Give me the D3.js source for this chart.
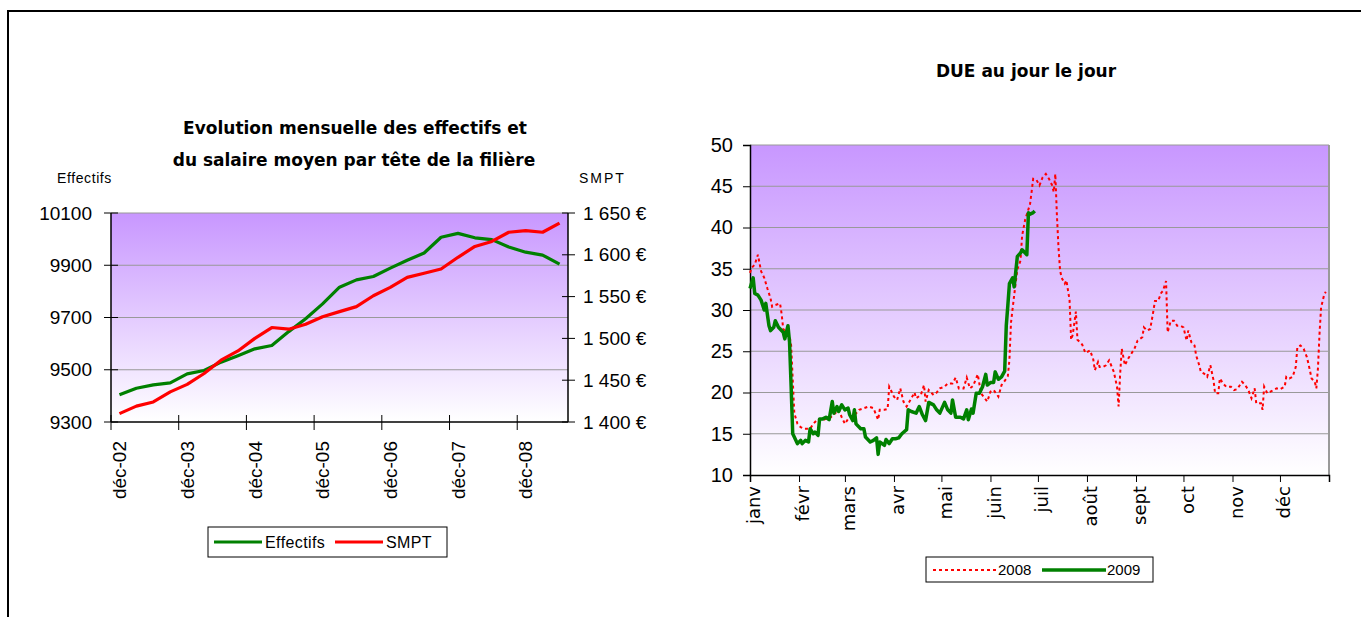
<!DOCTYPE html>
<html>
<head>
<meta charset="utf-8">
<script src="https://cdn.jsdelivr.net/npm/d3@7"></script>
<style>
body { margin: 0; background: #fff; }
svg text { font-family: "Liberation Sans", Arial, sans-serif; fill: #000; }
svg text.comic { font-family: "DejaVu Sans", sans-serif; }
</style>
</head>
<body>
<svg id="chart" width="1361" height="617"></svg>
<script>
// ---- left chart : quarterly data, dec 2002 -> june 2009
var quarters = ["déc-02","mars-03","juin-03","sept-03","déc-03","mars-04","juin-04","sept-04",
    "déc-04","mars-05","juin-05","sept-05","déc-05","mars-06","juin-06","sept-06","déc-06",
    "mars-07","juin-07","sept-07","déc-07","mars-08","juin-08","sept-08","déc-08","mars-09","juin-09"];
var effectifs = [9404, 9429, 9442, 9450, 9484, 9497, 9529, 9554, 9580, 9593, 9646, 9695, 9752, 9816,
    9844, 9857, 9889, 9919, 9947, 10007, 10022, 10005, 9998, 9970, 9950, 9939, 9904];
var smpt = [1410, 1419, 1424, 1436, 1445, 1458, 1474, 1485, 1500, 1513, 1511, 1517, 1526, 1532,
    1538, 1551, 1561, 1573, 1578, 1583, 1597, 1610, 1616, 1627, 1629, 1627, 1638];
var effTicks = [9300, 9500, 9700, 9900, 10100];
var smptTicks = [1400, 1450, 1500, 1550, 1600, 1650];
var quarterLabelStep = 4;

// ---- right chart : daily DUE, day of year
var monthNames = ["janv","févr","mars","avr","mai","juin","juil","août","sept","oct","nov","déc"];
var monthStarts = [0, 31, 60, 91, 121, 152, 182, 213, 244, 274, 305, 335, 366];
var dueTicks = [10, 15, 20, 25, 30, 35, 40, 45, 50];

var days2008 = [0, 1, 3, 5, 7, 9, 11, 13, 14, 16, 19, 20, 21, 23, 25, 26, 27, 28, 30, 32, 34, 36, 38, 40,
    43, 45, 48, 51, 54, 56, 58, 60, 62, 65, 69, 72, 75, 78, 81, 82, 85, 87, 88, 91, 93, 95, 97, 99,
    102, 104, 105, 108, 110, 111, 113, 116, 118, 120, 123, 125, 128, 130, 132, 135, 137, 139, 141,
    144, 146, 150, 152, 154, 157, 159, 161, 163, 164, 165, 167, 169, 171, 172, 174, 175, 177, 178,
    179, 181, 183, 185, 187, 189, 191, 192, 193, 194, 195, 196, 197, 199, 200, 202, 203, 204, 206,
    207, 210, 212, 215, 217, 218, 220, 221, 223, 225, 227, 230, 232, 233, 234, 235, 237, 239, 241,
    243, 245, 248, 249, 251, 253, 255, 256, 258, 260, 261, 263, 264, 266, 268, 270, 272, 274, 276,
    277, 279, 281, 282, 284, 285, 287, 289, 291, 293, 294, 296, 297, 299, 301, 304, 306, 308, 311,
    313, 315, 317, 319, 320, 323, 324, 325, 327, 329, 331, 333, 335, 338, 339, 341, 343, 345, 346,
    348, 350, 352, 353, 355, 357, 358, 359, 360, 361, 363, 364];
var due2008 = [34.5, 35.1, 35.5, 36.7, 34.7, 33.9, 32.6, 31.4, 30.4, 30.6, 30.8, 29.5, 27.7, 27.3, 26.9,
    25.7, 21.6, 17.5, 16.2, 15.8, 15.6, 15.6, 15.6, 16.2, 16.8, 16.6, 16.8, 17.0, 17.5, 17.9, 17.0,
    16.2, 16.8, 17.0, 17.9, 18.1, 18.3, 18.1, 16.7, 17.9, 17.9, 18.0, 20.7, 19.5, 19.1, 20.5, 18.9,
    18.3, 19.3, 20.0, 19.3, 19.7, 20.9, 18.9, 20.3, 19.7, 20.0, 20.5, 20.7, 21.1, 21.1, 21.8, 20.5,
    20.5, 21.8, 20.5, 20.8, 22.2, 19.9, 18.9, 20.1, 20.3, 19.5, 20.9, 21.4, 22.0, 24.0, 28.5, 31.8,
    34.9, 36.0, 39.0, 41.0, 41.6, 42.8, 44.3, 45.9, 45.8, 45.1, 46.1, 46.5, 45.9, 45.1, 44.3, 46.5,
    41.5, 37.6, 34.8, 33.9, 33.2, 33.6, 31.2, 26.4, 27.0, 29.8, 26.4, 25.8, 24.8, 25.1, 24.0, 22.7,
    23.7, 23.1, 23.1, 23.3, 23.9, 22.5, 20.7, 18.3, 22.3, 25.3, 23.3, 24.1, 24.7, 25.3, 26.3, 26.7,
    27.9, 27.5, 27.7, 29.9, 31.1, 31.1, 32.1, 32.3, 33.5, 27.3, 28.7, 28.7, 28.1, 28.1, 27.9, 26.3,
    27.5, 26.1, 25.7, 24.5, 23.3, 22.5, 22.3, 21.9, 23.3, 21.5, 19.9, 19.9, 21.7, 21.1, 20.7, 20.7,
    20.3, 20.4, 21.3, 20.9, 20.3, 19.3, 20.5, 18.7, 18.7, 17.9, 20.7, 19.9, 20.1, 20.3, 20.5, 20.4,
    20.7, 21.9, 21.7, 21.9, 23.1, 25.5, 25.7, 25.3, 24.3, 23.5, 21.7, 21.3, 20.5, 22.9, 27.1, 30.3,
    31.9, 32.2];

var days2009 = [0, 2, 3, 5, 7, 9, 10, 12, 13, 15, 16, 18, 21, 22, 24, 25, 26, 27, 28, 30, 32, 33, 35,
    37, 38, 40, 41, 43, 44, 46, 48, 50, 52, 53, 55, 56, 58, 60, 62, 63, 65, 66, 67, 70, 72, 73, 76,
    78, 80, 81, 82, 85, 86, 88, 90, 92, 94, 96, 99, 100, 102, 105, 107, 109, 111, 113, 116, 118,
    120, 123, 125, 127, 128, 130, 133, 135, 137, 138, 140, 141, 143, 145, 147, 149, 150, 152, 154,
    155, 157, 159, 161, 162, 163, 164, 166, 167, 169, 171, 172, 174, 175, 176, 177, 179, 180];
var due2009 = [32.6, 33.9, 32.0, 31.8, 31.2, 30.0, 30.8, 28.1, 27.5, 27.9, 28.7, 27.9, 27.3, 26.5,
    28.1, 26.1, 20.7, 15.0, 14.6, 13.8, 14.2, 13.8, 14.2, 14.0, 15.6, 15.0, 15.2, 14.8, 16.8, 16.8,
    17.0, 16.7, 18.9, 17.5, 18.3, 17.7, 18.5, 17.9, 18.1, 17.3, 16.6, 17.9, 16.2, 15.6, 15.6, 14.6,
    14.0, 14.2, 14.5, 12.5, 14.0, 13.6, 14.3, 13.8, 14.4, 14.4, 14.5, 15.0, 15.5, 17.9, 17.7, 17.5,
    18.3, 17.3, 16.6, 18.8, 18.5, 17.9, 17.5, 18.8, 17.9, 17.5, 19.1, 17.0, 17.0, 16.8, 17.9, 16.7,
    18.0, 17.5, 19.9, 19.9, 20.7, 22.2, 20.9, 21.2, 21.2, 22.5, 21.6, 21.9, 22.6, 28.1, 30.6, 33.2,
    33.9, 32.8, 36.5, 36.9, 37.3, 36.9, 36.7, 41.8, 41.6, 41.8, 42.0];

var svg = d3.select("#chart");

// outer frame
svg.append("rect")
    .attr("x", 8).attr("y", 11)
    .attr("width", 1400).attr("height", 700)
    .attr("fill", "none").attr("stroke", "#000").attr("stroke-width", 2);

var grad = svg.append("defs").append("linearGradient")
    .attr("id", "plotBg")
    .attr("x1", 0).attr("y1", 0).attr("x2", 0).attr("y2", 1);
grad.append("stop").attr("offset", "0%").attr("stop-color", "#c897ff");
grad.append("stop").attr("offset", "100%").attr("stop-color", "#ffffff");

var euro = d3.formatLocale({decimal: ",", thousands: " ", grouping: [3], currency: ["", " €"]}).format("$,.0f");

function drawLeft() {
    var left = 111, right = 568, top = 213, bottom = 422;
    var g = svg.append("g");
    var x = d3.scaleBand().domain(quarters).range([left, right]);
    var yL = d3.scaleLinear().domain([9300, 10100]).range([bottom, top]);
    var yR = d3.scaleLinear().domain([1400, 1650]).range([bottom, top]);

    g.append("rect")
        .attr("x", left).attr("y", top)
        .attr("width", right - left).attr("height", bottom - top)
        .attr("fill", "url(#plotBg)");

    g.selectAll(".grid").data(effTicks.slice(1)).enter()
        .append("line")
        .attr("class", "grid")
        .attr("x1", left).attr("x2", right)
        .attr("y1", d => yL(d)).attr("y2", d => yL(d))
        .attr("stroke", "#999").attr("stroke-width", 1.2);

    // axes lines
    g.append("line").attr("x1", left).attr("x2", left).attr("y1", top).attr("y2", bottom)
        .attr("stroke", "#000").attr("stroke-width", 1.5);
    g.append("line").attr("x1", right).attr("x2", right).attr("y1", top).attr("y2", bottom)
        .attr("stroke", "#000").attr("stroke-width", 1.5);
    g.append("line").attr("x1", left).attr("x2", right).attr("y1", bottom).attr("y2", bottom)
        .attr("stroke", "#000").attr("stroke-width", 1.5);

    // left ticks + labels
    g.selectAll(".tl").data(effTicks).enter()
        .append("line")
        .attr("x1", left - 7).attr("x2", left + 7)
        .attr("y1", d => yL(d)).attr("y2", d => yL(d))
        .attr("stroke", "#000");
    g.selectAll(".ll").data(effTicks).enter()
        .append("text")
        .attr("x", 92).attr("y", d => yL(d))
        .attr("dy", "0.35em")
        .attr("text-anchor", "end")
        .style("font-size", "19px")
        .text(d => d);

    // right ticks + labels
    g.selectAll(".tr").data(smptTicks).enter()
        .append("line")
        .attr("x1", right - 6).attr("x2", right + 7)
        .attr("y1", d => yR(d)).attr("y2", d => yR(d))
        .attr("stroke", "#000");
    g.selectAll(".lr").data(smptTicks).enter()
        .append("text")
        .attr("x", 583).attr("y", d => yR(d))
        .attr("dy", "0.35em")
        .style("font-size", "19px")
        .text(d => euro(d));

    // category ticks and labels
    var shown = quarters.filter((q, i) => i % quarterLabelStep == 0);
    g.selectAll(".tx").data(shown).enter()
        .append("line")
        .attr("x1", d => x(d)).attr("x2", d => x(d))
        .attr("y1", bottom - 7).attr("y2", bottom + 8)
        .attr("stroke", "#000");
    g.selectAll(".lx").data(shown).enter()
        .append("text")
        .attr("transform", d => "translate(" + (x(d) + x.bandwidth() / 2) + ",441) rotate(-90)")
        .attr("dy", "0.35em")
        .attr("text-anchor", "end")
        .style("font-size", "19px")
        .text(d => d);

    var lineL = d3.line().x((d, i) => x(quarters[i]) + x.bandwidth() / 2).y(d => yL(d));
    var lineR = d3.line().x((d, i) => x(quarters[i]) + x.bandwidth() / 2).y(d => yR(d));
    g.append("path").attr("d", lineL(effectifs))
        .attr("fill", "none").attr("stroke", "#008000").attr("stroke-width", 3.2)
        .attr("stroke-linejoin", "round");
    g.append("path").attr("d", lineR(smpt))
        .attr("fill", "none").attr("stroke", "#ff0000").attr("stroke-width", 3.2)
        .attr("stroke-linejoin", "round");

    // titles
    g.append("text").attr("class", "comic")
        .attr("x", 355).attr("y", 134).attr("text-anchor", "middle")
        .style("font-size", "17px").style("font-weight", "bold")
        .text("Evolution mensuelle des effectifs et");
    g.append("text").attr("class", "comic")
        .attr("x", 354).attr("y", 166).attr("text-anchor", "middle")
        .style("font-size", "17px").style("font-weight", "bold")
        .text("du salaire moyen par tête de la filière");
    g.append("text").attr("x", 57).attr("y", 183)
        .style("font-size", "14px").style("letter-spacing", "0.6px")
        .text("Effectifs");
    g.append("text").attr("x", 579).attr("y", 183)
        .style("font-size", "14px").style("letter-spacing", "2px")
        .text("SMPT");

    // legend
    var leg = g.append("g");
    leg.append("rect").attr("x", 208).attr("y", 527).attr("width", 239).attr("height", 30)
        .attr("fill", "#fff").attr("stroke", "#000");
    var items = [{k: "Effectifs", c: "#008000", x: 214}, {k: "SMPT", c: "#ff0000", x: 335}];
    var it = leg.selectAll("g").data(items).enter().append("g");
    it.append("line").attr("x1", d => d.x).attr("x2", d => d.x + 48)
        .attr("y1", 542).attr("y2", 542)
        .attr("stroke", d => d.c).attr("stroke-width", 3.2);
    it.append("text").attr("x", d => d.x + 51).attr("y", 542).attr("dy", "0.35em")
        .style("font-size", "16px").style("letter-spacing", "0.4px")
        .text(d => d.k);
}

function drawRight() {
    var left = 750, right = 1329, top = 145, bottom = 475;
    var g = svg.append("g");
    var x = d3.scaleLinear().domain([0, 366]).range([left, right]);
    var y = d3.scaleLinear().domain([10, 50]).range([bottom, top]);

    g.append("rect")
        .attr("x", left).attr("y", top)
        .attr("width", right - left).attr("height", bottom - top)
        .attr("fill", "url(#plotBg)");

    g.selectAll(".grid").data(dueTicks.slice(1)).enter()
        .append("line")
        .attr("x1", left).attr("x2", right)
        .attr("y1", d => y(d)).attr("y2", d => y(d))
        .attr("stroke", "#999").attr("stroke-width", 1.2);
    g.append("line").attr("x1", right).attr("x2", right).attr("y1", top).attr("y2", bottom)
        .attr("stroke", "#999").attr("stroke-width", 2);

    var yAxis = d3.axisLeft(y).tickValues(dueTicks).tickSize(7).tickPadding(10);
    var ya = g.append("g").attr("transform", "translate(" + left + ",0)").call(yAxis);
    ya.select(".domain").attr("stroke", "#000").attr("stroke-width", 1.5);
    ya.selectAll("text").style("font-size", "20px").style("font-family", "Liberation Sans, Arial, sans-serif");

    var xAxis = d3.axisBottom(x).tickValues(monthStarts).tickSize(7).tickFormat("");
    var xa = g.append("g").attr("transform", "translate(0," + bottom + ")").call(xAxis);
    xa.select(".domain").attr("stroke", "#000").attr("stroke-width", 1.5);

    g.selectAll(".lx").data(monthNames).enter()
        .append("text").attr("class", "comic")
        .attr("transform", (d, i) => "translate(" + (x(monthStarts[i]) + 4) + ",486) rotate(-90)")
        .attr("dy", "0.35em")
        .attr("text-anchor", "end")
        .style("font-size", "18px")
        .text(d => d);

    var line = d3.line().x(d => x(d[0])).y(d => y(d[1]));
    g.append("path").attr("d", line(d3.zip(days2008, due2008)))
        .attr("fill", "none").attr("stroke", "#ff0000").attr("stroke-width", 2)
        .attr("stroke-dasharray", "3,3");
    g.append("path").attr("d", line(d3.zip(days2009, due2009)))
        .attr("fill", "none").attr("stroke", "#008000").attr("stroke-width", 3.5)
        .attr("stroke-linejoin", "round");

    g.append("text").attr("class", "comic")
        .attr("x", 1026).attr("y", 77).attr("text-anchor", "middle")
        .style("font-size", "17px").style("font-weight", "bold")
        .text("DUE au jour le jour");

    var leg = g.append("g");
    leg.append("rect").attr("x", 926).attr("y", 557).attr("width", 227).attr("height", 25)
        .attr("fill", "#fff").attr("stroke", "#000");
    var items = [{k: "2008", c: "#ff0000", x: 933, dash: "3,3", w: 2},
                 {k: "2009", c: "#008000", x: 1042, dash: null, w: 3.5}];
    var it = leg.selectAll("g").data(items).enter().append("g");
    it.append("line").attr("x1", d => d.x).attr("x2", d => d.x + 64)
        .attr("y1", 570).attr("y2", 570)
        .attr("stroke", d => d.c).attr("stroke-width", d => d.w)
        .attr("stroke-dasharray", d => d.dash);
    it.append("text").attr("x", d => d.x + 65).attr("y", 570).attr("dy", "0.35em")
        .style("font-size", "15px")
        .text(d => d.k);
}

drawLeft();
drawRight();
</script>
</body>
</html>
